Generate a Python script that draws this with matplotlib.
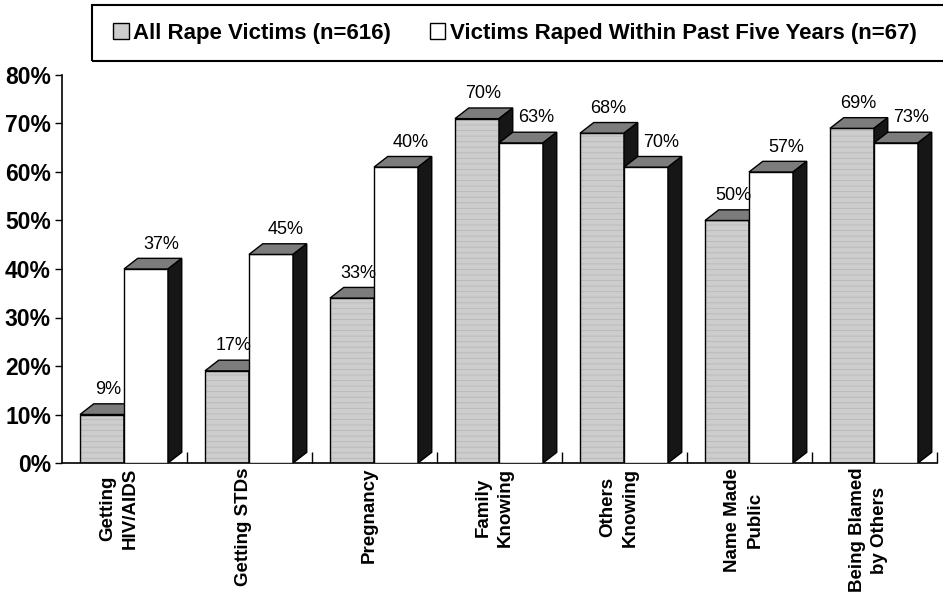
import matplotlib
matplotlib.use("Agg")
import matplotlib.pyplot as plt
from matplotlib.patches import Patch, Rectangle

plt.rcParams['font.family'] = ['Liberation Sans', 'DejaVu Sans']
plt.rcParams['hatch.linewidth'] = 0.6

# data
categories = ['Getting\nHIV/AIDS', 'Getting STDs', 'Pregnancy', 'Family\nKnowing',
              'Others\nKnowing', 'Name Made\nPublic', 'Being Blamed\nby Others']
all_heights = [10, 19, 34, 71, 68, 50, 69]       # drawn bar heights (%)
recent_heights = [40, 43, 61, 66, 61, 60, 66]
all_labels = ['9%', '17%', '33%', '70%', '68%', '50%', '69%']   # printed values
recent_labels = ['37%', '45%', '40%', '63%', '70%', '57%', '73%']
series_names = ['All Rape Victims (n=616)', 'Victims Raped Within Past Five Years (n=67)']
yticks = [0, 10, 20, 30, 40, 50, 60, 70, 80]

# 3-d look
bar_w = 0.352
grey_off = 0.144
dx = 0.11      # depth in x (category units)
dy = 2.2       # depth in y (percentage points)
top_col = '#7c7c7c'
side_col = '#161616'
grey_col = '#cdcdcd'

fig = plt.figure(figsize=(9.43, 5.97), dpi=100)
ax = fig.add_axes([62 / 943, 1 - 463 / 597, 875 / 943, 388 / 597])


def draw_box(x0, h, face, z, hatch=None):
    x1 = x0 + bar_w
    if hatch:
        ax.bar(x0, h, width=bar_w, align='edge', color=face, hatch=hatch,
               edgecolor='#b8b8b8', linewidth=0, zorder=z)
        ax.bar(x0, h, width=bar_w, align='edge', fill=False,
               edgecolor='black', linewidth=1.0, zorder=z)
    else:
        ax.bar(x0, h, width=bar_w, align='edge', color=face,
               edgecolor='black', linewidth=1.0, zorder=z)
    # top face
    ax.fill([x0, x0 + dx, x1 + dx, x1], [h, h + dy, h + dy, h],
            facecolor=top_col, edgecolor='black', linewidth=1.0, zorder=z)
    # side face
    ax.fill([x1, x1 + dx, x1 + dx, x1], [0, dy, h + dy, h],
            facecolor=side_col, edgecolor='black', linewidth=1.0, zorder=z)


for i in range(len(categories)):
    xg = i + grey_off
    xw = xg + bar_w
    draw_box(xg, all_heights[i], grey_col, 2, hatch='---')
    draw_box(xw, recent_heights[i], 'white', 3)
    ax.text(xg + bar_w / 2 + 0.05, all_heights[i] + dy + 1.2, all_labels[i],
            ha='center', va='bottom', fontsize=13, zorder=5)
    ax.text(xw + bar_w / 2 + 0.12, recent_heights[i] + dy + 1.2, recent_labels[i],
            ha='center', va='bottom', fontsize=13, zorder=5)

ax.set_xlim(0, 7)
ax.set_ylim(0, 80)
ax.set_yticks(yticks)
ax.set_yticklabels([f'{t}%' for t in yticks], fontsize=16.5, fontweight='bold')
ax.tick_params(axis='y', direction='out', length=5, width=1, pad=3)

# category boundaries as small inward ticks, labels at centres
ax.set_xticks(range(1, 8))
ax.set_xticklabels([])
ax.tick_params(axis='x', direction='in', length=8, width=1)
for i, name in enumerate(categories):
    ax.text(i + 0.455, -1.0, name, rotation=90, ha='center', va='top',
            multialignment='center', fontsize=13.5, fontweight='bold',
            linespacing=1.4)

for side in ['top', 'right']:
    ax.spines[side].set_visible(False)
for side in ['left', 'bottom']:
    ax.spines[side].set_linewidth(1.2)

# legend box
fig.patches.append(Rectangle((92 / 943, 1 - 61 / 597), 860 / 943, 56 / 597,
                             transform=fig.transFigure, fill=False,
                             edgecolor='black', linewidth=1.5))
handles = [Patch(facecolor=grey_col, edgecolor='black', linewidth=1.0),
           Patch(facecolor='white', edgecolor='black', linewidth=1.0)]
fig.legend(handles, series_names, loc='center left',
           bbox_to_anchor=(113 / 943, 1 - 33 / 597), ncol=2, frameon=False,
           prop={'weight': 'bold', 'size': 16}, handlelength=0.7,
           handleheight=0.7, handletextpad=0.2, columnspacing=1.75,
           borderpad=0, borderaxespad=0)

fig.savefig('out.png', dpi=100)
